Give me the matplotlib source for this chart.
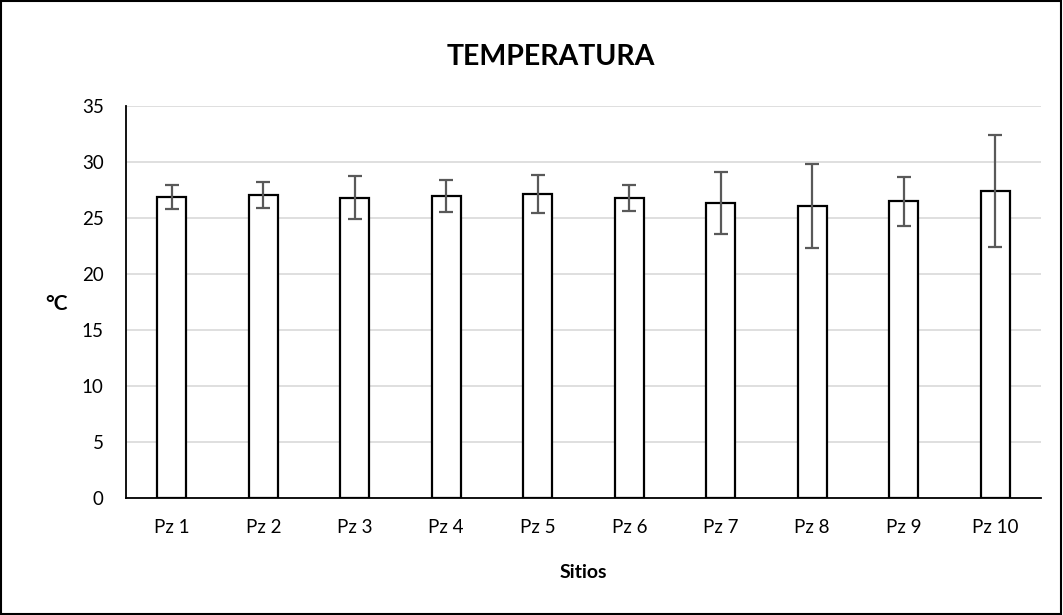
import matplotlib
matplotlib.use("Agg")
import matplotlib.pyplot as plt
from matplotlib.patches import Rectangle

categories = ["Pz 1", "Pz 2", "Pz 3", "Pz 4", "Pz 5", "Pz 6", "Pz 7", "Pz 8", "Pz 9", "Pz 10"]
means = [26.9, 27.1, 26.85, 26.95, 27.2, 26.8, 26.35, 26.1, 26.5, 27.4]
errors = [1.05, 1.15, 1.9, 1.43, 1.7, 1.2, 2.8, 3.78, 2.17, 5.0]
yticks = [0, 5, 10, 15, 20, 25, 30, 35]

plt.rcParams['font.family'] = ['Lato', 'DejaVu Sans']

fig = plt.figure(figsize=(10.63, 6.15), dpi=100)
ax = fig.add_axes([126/1063, 117/615, (1041-126)/1063, (498-106.3)/615])

x = list(range(len(categories)))
ax.bar(x, means, width=0.32, color='white', edgecolor='black', linewidth=1.6, zorder=3)
ax.errorbar(x, means, yerr=errors, fmt='none', ecolor='#595959', elinewidth=1.6,
            capsize=5, capthick=1.6, zorder=4)

ax.set_xlim(-0.5, len(categories) - 0.5)
ax.set_ylim(0, 35)
ax.set_yticks(yticks)
ax.set_xticks(x)
ax.set_xticklabels(categories)
ax.tick_params(axis='both', length=0, labelsize=13.5, colors='black')
ax.tick_params(axis='x', pad=15)
ax.tick_params(axis='y', pad=16)
ax.yaxis.grid(True, color='#d9d9d9', linewidth=1.2, zorder=0)
ax.set_axisbelow(True)
for s in ['top', 'right']:
    ax.spines[s].set_visible(False)
ax.spines['left'].set_color('black')
ax.spines['left'].set_linewidth(1.3)
ax.spines['bottom'].set_color('black')
ax.spines['bottom'].set_linewidth(1.3)

fig.text(551/1063, 1 - 57/615, "TEMPERATURA", ha='center', va='center', fontsize=20.5, fontweight='bold')
fig.text(56/1063, 1 - 304/615, "°C", ha='center', va='center', fontsize=15, fontweight='bold')
fig.text(583/1063, 1 - 573/615, "Sitios", ha='center', va='center', fontsize=14, fontweight='bold')

fig.patches.append(Rectangle((0.001, 0.002), 0.997, 0.996, transform=fig.transFigure,
                             fill=False, edgecolor='black', linewidth=1.5))

fig.savefig("out.png", dpi=100)
